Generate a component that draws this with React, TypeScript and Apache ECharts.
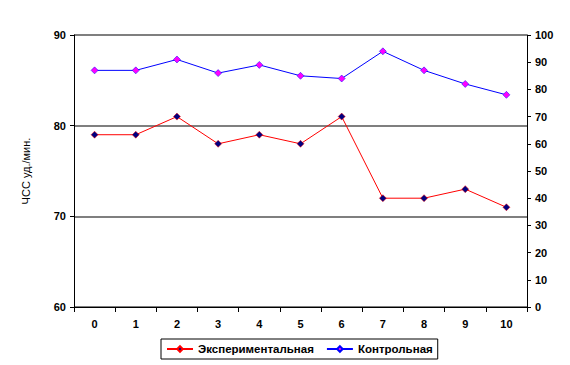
import React, { useEffect, useRef } from "react";
import * as echarts from "echarts";

const categories = ["0", "1", "2", "3", "4", "5", "6", "7", "8", "9", "10"];
const experimental = [79, 79, 81, 78, 79, 78, 81, 72, 72, 73, 71];
const control = [87, 87, 91, 86, 89, 85, 84, 94, 87, 82, 78];
const seriesNames = ["Экспериментальная", "Контрольная"];
const yAxisTitle = "ЧСС уд./мин.";

export default function App() {
  const ref = useRef<HTMLDivElement>(null);
  useEffect(() => {
    if (!ref.current) return;
    const chart = echarts.init(ref.current, null, { renderer: "svg" });
    const font = "Arial, 'Liberation Sans', sans-serif";
    chart.setOption({
      animation: false,
      backgroundColor: "#ffffff",
      grid: { left: 74, right: 43, top: 35, bottom: 58, containLabel: false },
      legend: {
        data: seriesNames,
        left: 161,
        top: 339,
        padding: [4, 5, 4, 5],
        borderColor: "#000",
        borderWidth: 1,
        itemWidth: 26,
        itemHeight: 7,
        itemGap: 12,
        textStyle: { fontFamily: font, fontSize: 11.5, fontWeight: "bold", color: "#000" },
      },
      xAxis: {
        type: "category",
        data: categories,
        boundaryGap: true,
        axisLine: { lineStyle: { color: "#000", width: 1 } },
        axisTick: { show: true, length: 5, lineStyle: { color: "#000" } },
        axisLabel: { margin: 11, fontFamily: font, fontSize: 11, fontWeight: "bold", color: "#000" },
        splitLine: { show: false },
      },
      yAxis: [
        {
          type: "value",
          min: 60,
          max: 90,
          interval: 10,
          name: yAxisTitle,
          nameLocation: "middle",
          nameGap: 43,
          nameRotate: 90,
          nameTextStyle: { fontFamily: font, fontSize: 11, color: "#000" },
          axisLine: { show: true, lineStyle: { color: "#000" } },
          axisTick: { show: true, length: 4, lineStyle: { color: "#000" } },
          axisLabel: { margin: 8, fontFamily: font, fontSize: 11, fontWeight: "bold", color: "#000" },
          splitLine: { show: true, lineStyle: { color: "#555", width: 1.5 } },
        },
        {
          type: "value",
          min: 0,
          max: 100,
          interval: 10,
          position: "right",
          axisLine: { show: true, lineStyle: { color: "#000" } },
          axisTick: { show: true, length: 4, lineStyle: { color: "#000" } },
          axisLabel: { margin: 8, fontFamily: font, fontSize: 11, fontWeight: "bold", color: "#000" },
          splitLine: { show: false },
        },
      ],
      series: [
        {
          name: seriesNames[0],
          type: "line",
          yAxisIndex: 0,
          data: experimental,
          symbol: "diamond",
          symbolSize: 7,
          lineStyle: { color: "#ff0000", width: 1 },
          itemStyle: { color: "#000080", borderColor: "#ff0000", borderWidth: 0.5 },
        },
        {
          name: seriesNames[1],
          type: "line",
          yAxisIndex: 1,
          data: control,
          symbol: "diamond",
          symbolSize: 7,
          lineStyle: { color: "#0000ff", width: 1 },
          itemStyle: { color: "#ff00ff", borderColor: "#0000ff", borderWidth: 0.5 },
        },
      ],
    });
    return () => chart.dispose();
  }, []);
  return (
    <div
      ref={ref}
      style={{ position: "fixed", left: 0, top: 0, width: 570, height: 365, background: "#fff" }}
    />
  );
}
